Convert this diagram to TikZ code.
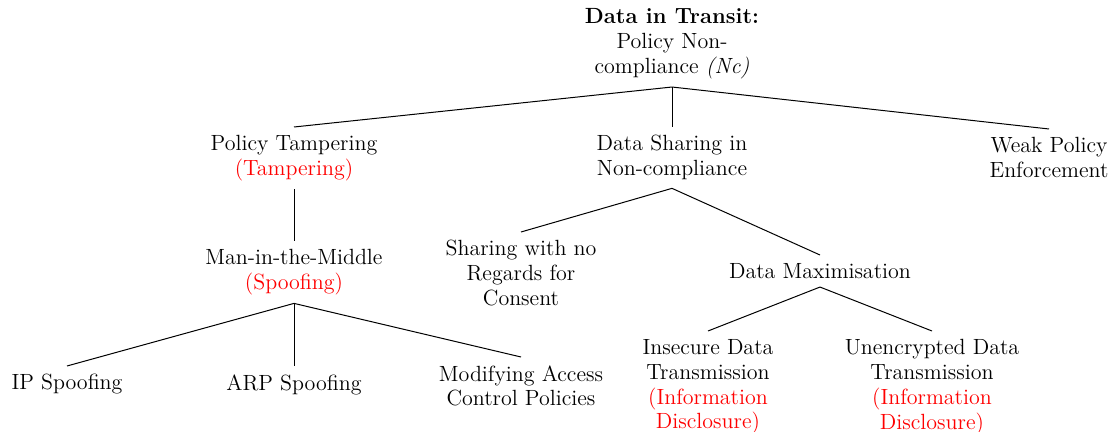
\documentclass[tikz,border=0pt]{standalone}
\begin{document}
\begin{tikzpicture}[x=0.5pt,y=-0.5pt,
  tn/.style={align=center,anchor=north,inner xsep=2pt,inner ysep=4pt,
    font=\fontsize{11}{12.4}\selectfont},
  edge/.style={line width=0.5pt,black}]
\useasboundingbox (0,0) rectangle (1119,432);
\node[tn] (root) at (672,0) {\textbf{Data in Transit:}\\Policy Non-\\compliance \textit{(Nc)}};
\node[tn] (pt) at (294,127) {Policy Tampering\\\textcolor{red}{(Tampering)}};
\node[tn] (ds) at (672,127) {Data Sharing in\\Non-compliance};
\node[tn] (wp) at (1049,129) {Weak Policy\\Enforcement};
\node[tn] (mitm) at (294,241) {Man-in-the-Middle\\\textcolor{red}{(Spoofing)}};
\node[tn] (ip) at (67,366) {IP Spoofing};
\node[tn] (arp) at (294,366) {ARP Spoofing};
\node[tn] (mod) at (521,357) {Modifying Access\\Control Policies};
\node[tn] (sh) at (521,232) {Sharing with no\\Regards for\\Consent};
\node[tn] (dm) at (820,255) {Data Maximisation};
\node[tn] (ins) at (708,331) {Insecure Data\\Transmission\\\textcolor{red}{(Information}\\\textcolor{red}{Disclosure)}};
\node[tn] (unc) at (932,331) {Unencrypted Data\\Transmission\\\textcolor{red}{(Information}\\\textcolor{red}{Disclosure)}};
\draw[edge] (root.south) -- (pt.north);
\draw[edge] (root.south) -- (ds.north);
\draw[edge] (root.south) -- (wp.north);
\draw[edge] (pt.south) -- (mitm.north);
\draw[edge] (mitm.south) -- (ip.north);
\draw[edge] (mitm.south) -- (arp.north);
\draw[edge] (mitm.south) -- (mod.north);
\draw[edge] (ds.south) -- (sh.north);
\draw[edge] (ds.south) -- (dm.north);
\draw[edge] (dm.south) -- (ins.north);
\draw[edge] (dm.south) -- (unc.north);
\end{tikzpicture}
\end{document}
